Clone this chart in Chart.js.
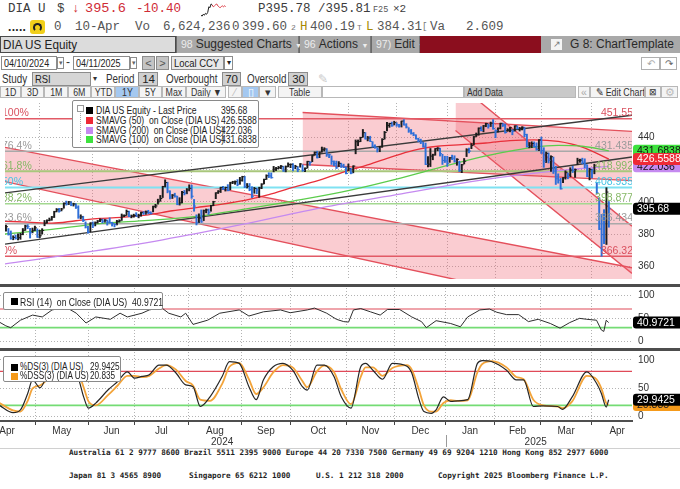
<!DOCTYPE html>
<html><head><meta charset="utf-8"><title>DIA US Equity</title>
<script src="https://cdn.jsdelivr.net/npm/chart.js@4.4.1/dist/chart.umd.min.js"></script>
<style>
*{margin:0;padding:0;box-sizing:border-box}
html,body{width:680px;height:489px;overflow:hidden;background:#fff}
body{position:relative;font-family:"Liberation Sans",Arial,sans-serif;color:#222}
.a{position:absolute;white-space:nowrap;line-height:1}
.m{font-family:"Liberation Mono","DejaVu Sans Mono",monospace}
.n{display:inline-block;transform:scaleX(.82);transform-origin:0 50%;white-space:pre}
.nc{display:inline-block;transform:scaleX(.84);transform-origin:50% 50%;white-space:pre}
.r1{top:3px;font-size:12.5px;color:#3c3c3c}
.r2{top:21px;font-size:12.5px;color:#555}
.red{color:#cf2b36}
.ol{color:#a88a00}
.seg{position:absolute;top:36px;height:17px;background:#a9a9a9;font-size:12px;line-height:17px;color:#2a2a2a;padding-left:4px;white-space:nowrap;border-right:1px solid #777}
.seg b{font-weight:normal;color:#ececec;font-size:10.5px;margin-right:3px}
.box{position:absolute;border:1px solid #8c8c8c;background:#fff;font-size:11px;line-height:12px;height:14px;padding:0 2px;white-space:nowrap;color:#222;overflow:hidden}
.lbl{position:absolute;font-size:12px;line-height:14px;color:#333;white-space:nowrap}
.btn{position:absolute;top:86px;height:12px;border:1px solid #b8b8b8;background:#f4f4f4;font-size:10.5px;line-height:10px;text-align:center;color:#333;white-space:nowrap;overflow:hidden}
canvas{position:absolute}
.lg{position:absolute;background:#fff;border:1px solid #8a8a8a;border-radius:2px;font-size:10.5px;color:#222}
.lg .row{position:absolute;white-space:pre;line-height:10px;height:10px}
.sq{position:absolute;width:7px;height:7px}
.sep{position:absolute;left:0;width:680px;height:3px;background:#4d4d4d}
.foot{position:absolute;font-family:"DejaVu Sans Mono",monospace;font-weight:bold;font-size:7.67px;color:#1e1e1e;white-space:pre;line-height:1}
</style></head><body>

<!-- header row 1 -->
<div class="a m r1" style="left:8px">DIA U</div>
<div class="a m r1" style="left:57px">$</div>
<div class="a m r1 red" style="left:72px">↓</div>
<div class="a m r1 red" style="left:85px;top:2px;font-size:13.6px">395.6</div>
<div class="a m r1 red" style="left:136px">-10.40</div>
<canvas id="spark" width="58" height="17" style="left:200px;top:2px;width:58px;height:17px"></canvas>
<div class="a m r1" style="left:258px">P395.78 /395.81</div>
<div class="a m" style="left:373px;top:6px;font-size:8.5px;color:#555">F25</div>
<div class="a m r1" style="left:393px;top:4px;font-size:11px">×2</div>

<!-- header row 2 -->
<div class="a" style="left:8px;top:21px;font-size:12px;font-weight:bold;color:#222;letter-spacing:0.3px">.....</div>
<div class="a" style="left:30px;top:20px;width:15px;height:14px;background:#f1cf1b;border-radius:3px"></div>
<div class="a" style="left:33px;top:23px;width:9px;height:9px;border:2px solid #222;border-bottom-color:transparent;border-radius:50%"></div>
<div class="a m r2" style="left:54px">0</div>
<div class="a m r2" style="left:75px">10-Apr</div>
<div class="a m r2" style="left:135px">Vo</div>
<div class="a m r2" style="left:163px">6,624,236</div>
<div class="a m r2" style="left:232px">0</div>
<div class="a m r2" style="left:242px">399.60</div>
<div class="a m" style="left:291px;top:24px;font-size:8px;color:#777">2</div>
<div class="a m r2 ol" style="left:300px">H</div>
<div class="a m r2" style="left:310px">400.19</div>
<div class="a m" style="left:357px;top:24px;font-size:8px;color:#777">T</div>
<div class="a m r2 ol" style="left:366px">L</div>
<div class="a m r2" style="left:377px">384.31</div>
<div class="a m" style="left:422px;top:23px;font-size:9px;color:#777">[</div>
<div class="a m r2" style="left:430px">Va</div>
<div class="a m r2" style="left:466px">2.609</div>

<!-- header row 3 -->
<div class="a" style="left:0;top:36px;width:680px;height:17px;background:#6a6a6a"></div>
<div class="box" style="left:0;top:36px;width:176px;height:17px;background:#dcdcdc;border-color:#4a4a4a;font-size:13px;line-height:15px;padding-left:2px"><span class="n" style="transform:scaleX(.9)">DIA US Equity</span></div>
<div class="seg" style="left:177px;width:122px"><b>98</b>Suggested Charts <span style="font-size:7px;color:#eee">▼</span></div>
<div class="seg" style="left:300px;width:71px"><b>96</b>Actions <span style="font-size:7px;color:#eee">▼</span></div>
<div class="seg" style="left:372px;width:48px"><b>97)</b>Edit <span style="font-size:7px;color:#eee">▼</span></div>
<div class="a" style="left:420px;top:36px;width:121px;height:17px;background:#8b0e1e"></div>
<div class="seg" style="left:541px;width:139px;padding-left:29px;border-right:none">G 8: ChartTemplate</div>
<div class="a" style="left:551px;top:39px;width:11px;height:11px;background:#f4f4f4;color:#777;font-size:9px;line-height:11px;text-align:center">↗</div>

<!-- header row 4 -->
<div class="box" style="left:1px;top:56px;width:56px"><span class="n">04/10/2024</span></div>
<div class="box" style="left:57px;top:57px;width:7px;height:12px;font-size:7px;line-height:10px;padding:0;text-align:center;color:#666">▾</div>
<div class="lbl" style="left:66px;top:55px">-</div>
<div class="box" style="left:73px;top:56px;width:57px"><span class="n">04/11/2025</span></div>
<div class="box" style="left:130px;top:57px;width:7px;height:12px;font-size:7px;line-height:10px;padding:0;text-align:center;color:#666">▾</div>
<div class="box" style="left:142px;top:56px;width:13px;background:#c4c4c4;text-align:center;padding:0;color:#555">&lt;</div>
<div class="box" style="left:156px;top:56px;width:13px;background:#c4c4c4;text-align:center;padding:0;color:#555">&gt;</div>
<div class="box" style="left:171px;top:56px;width:53px;background:#e8e8e8;font-size:11.5px"><span class="n">Local CCY</span></div>
<div class="box" style="left:224px;top:56px;width:9px;padding:0;text-align:center;font-size:8px">▾</div>
<div class="box" style="left:641px;top:57px;width:19px;height:13px;border-color:#b0b0b0;color:#aaa;text-align:center;font-size:10px;padding:0">↶</div>
<div class="box" style="left:660px;top:57px;width:17px;height:13px;border-color:#b0b0b0;color:#666;text-align:center;font-size:10px;padding:0">↷</div>

<!-- header row 5 -->
<div class="lbl" style="left:2px;top:72px"><span class="n">Study</span></div>
<div class="box" style="left:32px;top:72px;width:59px;background:#d6d6d6;font-size:11.5px"><span class="n">RSI</span></div>
<div class="lbl" style="left:93px;top:72px;font-size:8px">▾</div>
<div class="lbl" style="left:106px;top:72px"><span class="n">Period</span></div>
<div class="box" style="left:138px;top:72px;width:20px;background:#d0d0d0;text-align:right;font-size:11.5px">14</div>
<div class="lbl" style="left:166px;top:72px"><span class="n">Overbought</span></div>
<div class="box" style="left:222px;top:72px;width:19px;background:#d0d0d0;text-align:right;font-size:11.5px">70</div>
<div class="lbl" style="left:247px;top:72px"><span class="n">Oversold</span></div>
<div class="box" style="left:288px;top:72px;width:20px;background:#d0d0d0;text-align:right;font-size:11.5px">30</div>
<div class="lbl" style="left:318px;top:72px;color:#c8c8c8">✎</div>

<!-- header row 6 -->
<div class="btn" style="left:0;width:21px"><span class="nc">1D</span></div>
<div class="btn" style="left:21px;width:23px"><span class="nc">3D</span></div>
<div class="btn" style="left:44px;width:24px"><span class="nc">1M</span></div>
<div class="btn" style="left:68px;width:23px"><span class="nc">6M</span></div>
<div class="btn" style="left:91px;width:24px"><span class="nc">YTD</span></div>
<div class="btn" style="left:115px;width:24px;background:#a4c8f0"><span class="nc">1Y</span></div>
<div class="btn" style="left:139px;width:23px"><span class="nc">5Y</span></div>
<div class="btn" style="left:162px;width:24px"><span class="nc">Max</span></div>
<div class="btn" style="left:186px;width:40px"><span class="nc">Daily ▼</span></div>
<div class="btn" style="left:228px;width:14px;color:#bbb">⁄</div>
<div class="btn" style="left:242px;width:17px;background:#a4c8f0;color:#fff">▯</div>
<div class="btn" style="left:259px;width:17px">▾</div>
<div class="btn" style="left:278px;width:44px"><span class="nc">Table</span></div>
<div class="btn" style="left:322px;width:142px;background:#fff"></div>
<div class="btn" style="left:464px;width:112px;background:#c9c9c9;text-align:left;padding-left:2px"><span class="n">Add Data</span></div>
<div class="btn" style="left:578px;width:12px;color:#aaa">«</div>
<div class="btn" style="left:590px;width:55px"><span class="nc">✎ Edit Chart</span></div>
<div class="btn" style="left:645px;width:16px;font-size:9px">⊠</div>
<div class="btn" style="left:661px;width:17px;color:#bbb">⚙</div>

<!-- chart panels -->
<canvas id="cPrice" width="680" height="186" style="left:0;top:98px;width:680px;height:186px"></canvas>
<div class="sep" style="top:284px"></div>
<canvas id="cRsi" width="680" height="60" style="left:0;top:288px;width:680px;height:60px"></canvas>
<div class="sep" style="top:348px"></div>
<canvas id="cSto" width="680" height="96" style="left:0;top:352px;width:680px;height:96px"></canvas>

<!-- legends -->
<div class="lg" style="left:72px;top:100px;width:187px;height:48px">
  <div style="position:absolute;left:4px;top:4px;width:7px;height:7px;border:1px solid #999"></div>
  <div style="position:absolute;left:7px;top:12px;width:1px;height:29px;border-left:1px dotted #aaa"></div>
  <div class="sq" style="left:13px;top:6px;background:#000"></div>
  <div class="row" style="left:23px;top:4px"><span class="n">DIA US Equity - Last Price</span></div><div class="row" style="left:148px;top:4px"><span class="n" id="lv0"></span></div>
  <div class="sq" style="left:13px;top:16px;background:#ee2a36"></div>
  <div class="row" style="left:23px;top:14px"><span class="n">SMAVG (50)  on Close (DIA US)</span></div><div class="row" style="left:148px;top:14px"><span class="n" id="lv1"></span></div>
  <div class="sq" style="left:13px;top:26px;background:#c58af0"></div>
  <div class="row" style="left:23px;top:24px"><span class="n">SMAVG (200)  on Close (DIA US)</span></div><div class="row" style="left:148px;top:24px"><span class="n" id="lv2"></span></div>
  <div class="sq" style="left:13px;top:35px;background:#3ee23e"></div>
  <div class="row" style="left:23px;top:33px"><span class="n">SMAVG (100)  on Close (DIA US)</span></div><div class="row" style="left:148px;top:33px"><span class="n" id="lv3"></span></div>
</div>
<div class="lg" style="left:3px;top:292px;width:160px;height:18px">
  <div class="sq" style="left:7px;top:5px;background:#000"></div>
  <div class="row" style="left:16px;top:4px"><span class="n">RSI (14)  on Close (DIA US)  <span id="lv4"></span></span></div>
</div>
<div class="lg" style="left:3px;top:356px;width:118px;height:26px;font-size:10px">
  <div class="sq" style="left:7px;top:7px;background:#000"></div>
  <div class="row" style="left:16px;top:5px"><span class="n">%DS(3) (DIA US)</span></div><div class="row" style="left:86px;top:5px"><span class="n" id="lv5"></span></div>
  <div class="sq" style="left:7px;top:16px;background:#f59a1a"></div>
  <div class="row" style="left:16px;top:14px"><span class="n">%DSS(3) (DIA US)</span></div><div class="row" style="left:86px;top:14px"><span class="n" id="lv6"></span></div>
</div>

<!-- footer -->
<div class="a" style="left:0;top:448px;width:680px;height:1px;background:#d0d0d0"></div>
<div class="foot" style="left:69px;top:449px">Australia 61 2 9777 8600 Brazil 5511 2395 9000 Europe 44 20 7330 7500 Germany 49 69 9204 1210 Hong Kong 852 2977 6000</div>
<div class="foot" style="left:69px;top:472px">Japan 81 3 4565 8900</div>
<div class="foot" style="left:189px;top:472px">Singapore 65 6212 1000</div>
<div class="foot" style="left:316px;top:472px">U.S. 1 212 318 2000</div>
<div class="foot" style="left:438px;top:472px">Copyright 2025 Bloomberg Finance L.P.</div>

<script>
// ---------------- DATA ----------------
// daily bars, Apr 10 2024 .. Apr 10 2025 (trading-day index = position)
const closes = [
384.6,384.6,379.8,377.4,378.0,377.5,377.8,379.9,382.4,385.0,384.6,380.9,382.4,383.9,378.2,
379.0,382.3,386.8,388.5,388.8,390.6,393.9,395.1,394.3,395.6,399.1,398.7,400.0,398.1,398.7,396.7,390.7,390.7,388.5,384.4,381.1,386.9,
385.7,387.1,388.1,388.9,388.0,388.7,387.5,387.1,386.5,385.9,387.8,388.3,391.3,391.5,394.1,391.1,391.3,391.6,391.2,
391.7,393.3,393.1,393.8,393.4,392.9,397.2,397.5,400.0,402.1,409.5,412.0,406.7,402.9,404.2,403.6,398.5,399.4,405.9,405.4,407.4,408.4,
403.5,397.4,387.0,390.0,387.6,394.5,395.0,393.6,397.7,400.1,405.6,406.6,409.0,408.3,408.9,407.1,411.8,412.4,412.5,410.9,413.4,415.6,
409.4,409.7,407.6,403.5,408.3,407.4,408.6,411.0,413.9,416.2,416.1,415.0,420.3,420.6,421.2,422.1,419.2,421.8,423.1,423.3,
421.6,422.0,420.1,423.5,419.5,420.8,425.1,424.5,428.6,430.7,427.4,430.8,432.4,432.8,429.3,429.2,425.1,423.7,421.1,423.9,422.3,421.4,417.6,
420.5,417.9,422.2,437.3,437.3,439.9,442.9,439.1,439.6,437.5,434.5,433.9,432.7,434.1,438.7,443.0,447.4,448.6,447.2,449.1,
447.8,447.1,450.1,447.7,446.4,444.0,442.5,441.5,439.1,438.3,437.2,434.5,423.3,423.4,428.4,429.1,433.0,433.3,429.9,425.7,425.4,
423.9,427.3,427.1,425.3,426.4,419.4,423.0,425.2,432.2,431.5,434.9,440.3,441.6,445.7,444.2,447.1,448.5,447.1,448.8,445.5,
444.2,445.6,448.7,447.5,443.0,444.7,445.9,443.7,447.1,445.5,445.6,446.3,441.8,434.3,434.6,436.2,434.3,432.4,438.4,
431.9,425.2,430.1,425.8,428.0,419.1,414.3,413.5,408.1,414.9,418.4,415.8,419.7,419.5,419.9,425.8,425.9,424.6,423.0,415.8,420.0,
419.9,422.3,405.5,383.2,379.7,376.5,406.1,395.68];
const highs = [
387.0,385.6,383.5,382.0,379.0,379.5,380.2,380.5,383.5,385.6,385.9,383.6,383.8,385.0,383.3,
382.4,383.4,388.5,388.9,390.0,391.0,394.2,395.9,396.0,396.0,399.4,400.5,400.3,400.1,399.2,398.9,397.6,392.0,391.1,387.6,384.9,387.1,
387.6,387.6,388.5,389.5,389.4,389.1,388.8,390.1,387.4,386.5,388.6,388.9,392.5,392.0,395.0,394.3,391.9,392.4,393.3,
392.4,393.7,394.0,394.4,394.8,393.9,397.4,398.5,401.7,404.0,409.7,413.7,412.2,406.9,404.6,405.4,403.6,402.6,406.5,407.1,408.3,410.6,
410.4,401.5,392.0,392.6,395.0,395.0,395.6,395.6,397.9,400.4,405.7,407.0,409.1,409.6,409.2,410.7,412.2,412.8,413.0,413.8,415.2,415.9,
415.8,411.4,411.4,409.4,409.0,408.6,409.1,411.3,414.2,416.8,418.1,418.0,422.0,421.4,422.0,422.6,422.1,422.3,424.2,423.6,
423.7,422.7,421.9,423.8,423.0,421.1,425.2,425.0,428.8,431.0,431.4,431.0,434.0,433.6,433.0,429.6,428.5,425.4,425.3,425.0,424.0,423.4,421.7,
423.5,420.8,422.4,438.4,438.4,440.1,444.9,443.0,440.6,440.7,437.3,435.4,433.6,434.4,439.2,443.7,449.3,448.8,449.5,450.0,
449.1,448.1,450.1,451.0,448.5,446.0,444.9,443.0,441.6,439.5,438.9,436.9,436.5,428.1,433.1,429.6,433.1,433.7,433.3,429.5,428.3,
428.3,427.6,429.0,428.6,426.8,425.2,423.3,426.9,433.0,433.3,436.2,440.6,442.7,445.9,446.6,447.4,448.8,448.3,449.5,451.0,
444.7,445.9,448.8,448.8,448.3,445.4,446.2,444.7,447.2,447.2,446.2,446.6,446.3,442.0,436.8,437.3,437.2,436.6,438.6,
440.2,433.6,430.9,430.4,428.6,427.8,422.1,417.4,414.6,415.1,419.3,418.0,421.2,422.1,420.4,427.1,426.5,427.1,426.7,423.0,420.8,
420.4,423.4,412.0,402.5,392.3,395.2,408.8,400.2];
const lows = [
382.5,381.8,379.4,376.8,376.5,376.9,376.4,376.8,379.6,382.3,383.4,377.6,380.8,382.2,378.0,
377.8,380.0,385.2,386.8,388.2,388.6,390.3,393.8,393.7,394.4,396.1,398.0,398.3,397.6,397.4,395.9,389.8,389.5,387.8,383.8,380.6,381.5,
384.0,385.1,386.8,387.7,386.9,387.4,385.6,386.8,385.0,384.5,385.7,387.5,388.5,390.8,391.6,390.8,390.1,390.5,390.9,
390.1,391.2,392.2,392.3,392.6,392.4,393.8,396.3,398.6,400.4,402.7,409.2,405.6,401.8,402.1,402.9,398.2,398.0,399.4,404.3,405.0,406.8,
402.2,394.2,385.7,387.1,387.3,388.4,393.2,392.2,394.2,397.6,402.0,405.2,405.8,407.6,406.7,406.8,407.5,411.3,410.9,410.0,410.9,412.8,
408.8,408.6,406.9,402.6,405.3,405.0,402.8,408.2,411.2,413.9,415.0,414.7,418.6,419.4,420.5,420.6,418.9,418.6,421.7,421.2,
419.2,420.5,418.7,421.5,418.9,418.8,420.9,422.7,424.9,428.9,427.2,427.4,430.8,431.5,428.2,427.4,423.2,422.4,420.7,421.9,421.3,421.2,417.4,
419.4,417.4,418.0,429.8,434.8,437.3,440.1,438.9,437.8,437.4,433.9,433.2,430.9,431.1,433.8,438.9,444.0,446.2,446.8,447.7,
446.8,446.3,446.4,447.6,445.8,443.1,442.0,441.0,438.9,437.2,436.1,433.9,423.1,421.6,421.9,426.1,428.9,431.7,428.4,423.2,424.4,
422.0,424.5,426.2,424.6,422.7,418.8,418.1,423.5,428.1,430.4,433.0,435.5,440.5,441.3,444.0,443.4,446.6,445.7,446.7,445.0,
439.8,443.3,445.2,446.7,442.6,443.8,443.4,441.6,443.9,445.2,443.9,444.6,440.4,434.0,433.5,433.6,433.9,432.0,431.8,
430.0,421.4,424.4,424.1,418.9,417.6,410.8,411.6,407.9,411.9,414.1,414.3,415.6,418.2,415.2,423.1,424.5,423.6,421.0,415.6,413.6,
414.8,417.4,404.9,382.8,366.3,374.1,373.6,384.3];

// moving averages (sample positions = trading-day index)
const sma50Idx  = [0,10,20,30,40,50,60,70,80,90,100,110,120,130,140,150,160,170,180,190,200,210,220,230,240,251];
const sma50     = [388.0,387.5,386.8,388.3,389.8,390.5,392.0,394.5,396.5,398.5,401.0,404.5,409.0,413.0,418.0,422.5,427.5,432.0,434.5,435.5,436.5,438.0,438.5,437.5,434.0,426.5588];
const sma100Idx = [0,20,40,60,80,100,120,140,160,180,200,210,220,230,240,251];
const sma100    = [380.0,383.0,386.5,388.5,391.0,395.5,400.5,406.0,413.0,421.0,428.5,431.5,434.0,435.0,434.5,431.6838];
const sma200Idx = [0,33,66,99,132,165,198,231,251];
const sma200    = [361.5,368.5,376.5,386.0,396.5,405.0,413.5,419.5,422.036];

// Fibonacci retracement levels
const fibPct    = ['100%','76.4%','61.8%','50%','38.2%','23.6%','0%'];
const fibLevels = [451.55,431.435,418.992,408.935,398.877,386.434,366.32];

// drawn channels / trend lines: [trading-day index, price]
const chanL1 = [[0.6,433.8],[260.6,359.2]];
const chanL3 = [[0.6,412.6],[260.6,328.1]];
const chanT1 = [[124,455.4],[260.6,443.7]];
const chanT2 = [[124,423.2],[260.6,413.2]];
const chanD1 = [[187.4,474.3],[260.6,385.0]];
const chanD2 = [[187.4,444.3],[260.6,355.7]];
const trendU  = [[0.6,405.6],[260.6,453.7]];
const trendLB = [[0.6,373.8],[260.6,427.8]];

// RSI(14)
const rsiIdx  = [0,3,5,9,14,18,22,26,29,32,36,40,46,50,53,59,62,67,70,75,77,80,86,91,99,103,109,116,120,127,130,135,139,142,144,146,149,153,157,160,165,170,174,176,180,186,190,193,198,202,205,209,214,218,222,227,231,235,239,242,246,248,249,250,251];
const rsiVals = [43,34,30,46,57,53,68,72,70,61,40,53,48,61,53,61,68,73,61,53,61,37,46,61,68,55,64,68,62,68,72,61,48,43,42,68,71,64,57,69,69,53,43,30,45,39,32,53,68,70,63,58,58,43,48,39,29,41,50,48,46,25,22,46,40.9721];

// Stochastic %DS(3) / %DSS(3)
const stIdx   = [0,6,9,12,14,17,21,25,29,33,35,37,40,45,49,53,56,59,62,66,69,73,77,80,83,87,92,95,99,103,106,109,113,117,121,125,127,131,134,138,141,145,149,151,154,158,162,168,170,173,175,178,180,183,186,189,193,197,199,203,209,213,216,220,224,230,232,236,242,246,248,250,251];
const dsVals  = [21,7,12,41,65,51,82,95,92,65,35,15,24,47,62,79,68,71,74,91,91,77,56,53,18,35,71,97,94,53,30,65,88,94,82,53,47,91,91,71,35,15,88,94,82,66,94,89,77,30,9,6,12,35,27,28,30,94,99,97,82,65,65,18,19,18,13,35,79,59,41,17,29.9425];
const dssVals = [25,11,9,28,50,55,70,89,94,76,52,27,20,38,55,72,72,70,72,85,91,83,63,55,30,28,58,88,95,66,40,52,78,91,87,63,52,80,90,79,48,22,70,87,87,72,86,91,83,47,20,9,9,24,29,28,29,78,93,98,87,70,66,30,20,18,15,27,72,66,50,24,20.835];

// axis labels
const priceTicks = [360,380,400,420,440];
const oscTicks = [0,50,100];
const monthStartIdx = [15,37,56,78,100,120,143,163,184,204,223,244];
const monthLabels = ['Apr','May','Jun','Jul','Aug','Sep','Oct','Nov','Dec','Jan','Feb','Mar','Apr'];
const monthLabelIdx = [3.5,26,46.5,67,89,110,131.5,153,173.5,194,213.5,233.5,254.5];
const yearLabels = ['2024','2025'];
const yearLabelIdx = [92,221];
const yearSplitIdx = 184;

// header sparkline
const sparkBlack = [3,2,4,3,5,4,6,12,11,15,14];
const sparkRed   = [14,12,13,14,15,13,12,11,12,13,12,13,12];

// ---------------- STYLE / LAYOUT ----------------
const X_MIN = 0.6, X_MAX = 260.6;
const PINK = 'rgba(240,96,112,0.32)', RED_LN = '#e4505c';
const FIB_COL = ['#e25a66','#a9a9a9','#a9c77c','#7fe2f2','#a3d890','#a9a9a9','#e25a66'];
const FIB_TXT = ['#d9505e','#9a9a9a','#86b866','#46c4e4','#86b866','#9a9a9a','#d9505e'];
const FIB_W   = [1.5,1.5,2,2,1.5,1.5,1.5];
const GRID = '#b3b3b3';
const last = a => a[a.length-1];

document.getElementById('lv0').textContent = String(last(closes));
document.getElementById('lv1').textContent = String(last(sma50));
document.getElementById('lv2').textContent = String(last(sma200));
document.getElementById('lv3').textContent = String(last(sma100));
document.getElementById('lv4').textContent = String(last(rsiVals));
document.getElementById('lv5').textContent = String(last(dsVals));
document.getElementById('lv6').textContent = String(last(dssVals));

const pts = arr => arr.map(p => ({x:p[0], y:p[1]}));
const zip = (xs, ys) => xs.map((x,i) => ({x, y:ys[i]}));

function xScale(extra){
  return Object.assign({
    type:'linear', min:X_MIN, max:X_MAX, offset:false,
    afterBuildTicks: s => { s.ticks = monthStartIdx.map(v => ({value:v})); },
    grid:{color:GRID, lineWidth:1, drawTicks:false, offset:false},
    border:{display:false, dash:[1,2]},
    ticks:{display:false},
    afterFit: s => { s.height = 0; s.paddingLeft = 0; s.paddingRight = 0; }
  }, extra || {});
}
function yScale(min, max, ticks){
  return {
    type:'linear', position:'right', min, max,
    afterBuildTicks: s => { s.ticks = ticks.map(v => ({value:v})); },
    grid:{color:GRID, lineWidth:1, drawTicks:false},
    border:{display:false, dash:[1,2]},
    ticks:{padding:6, color:'#333', font:{family:'Liberation Sans', size:10}},
    afterFit: s => { s.width = 48; s.paddingTop = 0; s.paddingBottom = 0; }
  };
}
function drawTag(ctx, x0, yc, txt, bg, fg){
  const h = 12, r = 3, x1 = 680;
  ctx.fillStyle = bg; ctx.beginPath();
  ctx.moveTo(x0 + r, yc - h/2); ctx.lineTo(x1, yc - h/2); ctx.lineTo(x1, yc + h/2); ctx.lineTo(x0 + r, yc + h/2);
  ctx.quadraticCurveTo(x0, yc + h/2, x0, yc + h/2 - r); ctx.lineTo(x0, yc - h/2 + r);
  ctx.quadraticCurveTo(x0, yc - h/2, x0 + r, yc - h/2); ctx.fill();
  ctx.fillStyle = fg; ctx.font = '10.5px "Liberation Sans"'; ctx.textAlign = 'left'; ctx.textBaseline = 'middle';
  ctx.fillText(txt, x0 + 4, yc + 0.5);
}
const common = {
  responsive:false, animation:false, events:[], layout:{padding:0},
  plugins:{legend:{display:false}, tooltip:{enabled:false}}
};

// ---------------- PRICE PANEL ----------------
const barCols = closes.map((c,i) => (i > 0 && c < closes[i-1]) ? '#2f6fd8' : '#1c1c1c');
const pDs = [];
const add = d => { pDs.push(d); return pDs.length - 1; };
const lineBase = {type:'line', pointRadius:0, borderWidth:1.4, tension:0, fill:false};
[[chanL1,chanL3],[chanT1,chanT2],[chanD1,chanD2]].forEach(([a,b]) => {
  const ia = add(Object.assign({}, lineBase, {data:pts(a), borderColor:RED_LN, order:20}));
  add(Object.assign({}, lineBase, {data:pts(b), borderColor:RED_LN, order:20, fill:{target:ia}, backgroundColor:PINK}));
});
fibLevels.forEach((v,i) => add(Object.assign({}, lineBase, {
  data:[{x:X_MIN,y:v},{x:X_MAX,y:v}], borderColor:FIB_COL[i], borderWidth:FIB_W[i], order:15})));
[trendU, trendLB].forEach(t => add(Object.assign({}, lineBase, {data:pts(t), borderColor:'#3a3a3a', borderWidth:1.4, order:12})));
add(Object.assign({}, lineBase, {data:zip(sma200Idx, sma200), borderColor:'#c58af0', borderWidth:1.3, cubicInterpolationMode:'monotone', order:8}));
add(Object.assign({}, lineBase, {data:zip(sma100Idx, sma100), borderColor:'#5ccc4c', borderWidth:1.3, cubicInterpolationMode:'monotone', order:8}));
add(Object.assign({}, lineBase, {data:zip(sma50Idx, sma50), borderColor:'#e8303a', borderWidth:1.3, cubicInterpolationMode:'monotone', order:8}));
add({type:'bar', data:closes.map((c,i) => ({x:i, y:[lows[i], highs[i]]})), backgroundColor:barCols,
     barThickness:1.3, grouped:false, order:3});
add({type:'line', showLine:false, data:closes.map((c,i) => ({x:i + 0.4, y:c})), pointStyle:'line',
     pointRadius:1.1, pointBorderWidth:1, pointBorderColor:barCols, order:2});

const priceDeco = {
  id:'priceDeco',
  afterDatasetsDraw(c){
    const {ctx, chartArea:a, scales:{y}} = c;
    ctx.save(); ctx.beginPath(); ctx.rect(a.left, a.top, a.right - a.left, a.bottom - a.top); ctx.clip();
    ctx.font = '10.5px "Liberation Sans"'; ctx.textBaseline = 'alphabetic';
    fibLevels.forEach((v,i) => {
      const py = y.getPixelForValue(v);
      ctx.fillStyle = FIB_TXT[i];
      ctx.textAlign = 'left';  ctx.fillText(fibPct[i], a.left - 3, py - 2.5);
      ctx.textAlign = 'right'; ctx.fillText(String(v), a.right + 1, py - 2.5);
    });
    ctx.restore();
  },
  afterDraw(c){
    const {ctx, chartArea:a, scales:{y}} = c;
    ctx.save();
    const x0 = a.right + 1;
    drawTag(ctx, x0, y.getPixelForValue(last(sma100)), String(last(sma100)), '#3ee23e', '#111');
    drawTag(ctx, x0, y.getPixelForValue(last(sma200)), String(last(sma200)), '#c58af0', '#111');
    drawTag(ctx, x0, y.getPixelForValue(last(sma50)),  String(last(sma50)),  '#ee2a36', '#fff');
    drawTag(ctx, x0, y.getPixelForValue(last(closes)), String(last(closes)), '#000', '#fff');
    ctx.restore();
  }
};
new Chart(document.getElementById('cPrice'), {
  type:'line', data:{datasets:pDs},
  options:Object.assign({}, common, {scales:{x:xScale(), y:yScale(352.2, 461.3, priceTicks)}}),
  plugins:[priceDeco]
});

// ---------------- RSI PANEL ----------------
const rsiDeco = {id:'rsiDeco', afterDraw(c){
  const {ctx, chartArea:a, scales:{y}} = c; ctx.save();
  drawTag(ctx, a.right + 1, y.getPixelForValue(last(rsiVals)), String(last(rsiVals)), '#000', '#fff');
  ctx.restore(); }};
new Chart(document.getElementById('cRsi'), {
  type:'line',
  data:{datasets:[
    Object.assign({}, lineBase, {data:zip(rsiIdx, rsiVals), borderColor:'#2e2e2e', borderWidth:1, order:1}),
    Object.assign({}, lineBase, {data:[{x:X_MIN,y:70},{x:X_MAX,y:70}], borderColor:'#e04a58', borderWidth:1.2, order:5}),
    Object.assign({}, lineBase, {data:[{x:X_MIN,y:30},{x:X_MAX,y:30}], borderColor:'#74dc74', borderWidth:1.8, order:5})
  ]},
  options:Object.assign({}, common, {scales:{x:xScale(), y:yScale(-13.5, 115, oscTicks)}}),
  plugins:[rsiDeco]
});

// ---------------- STOCHASTIC PANEL + TIME AXIS ----------------
const stoDeco = {id:'stoDeco', afterDraw(c){
  const {ctx, chartArea:a, scales:{x, y}} = c; ctx.save();
  drawTag(ctx, a.right + 1, y.getPixelForValue(last(dssVals)), String(last(dssVals)), '#f59a1a', '#222');
  drawTag(ctx, a.right + 1, y.getPixelForValue(last(dsVals)), String(last(dsVals)), '#000', '#fff');
  ctx.fillStyle = '#333'; ctx.font = '10px "Liberation Sans"'; ctx.textAlign = 'center'; ctx.textBaseline = 'middle';
  monthLabels.forEach((t,i) => ctx.fillText(t, x.getPixelForValue(monthLabelIdx[i]), a.bottom + 10));
  yearLabels.forEach((t,i) => ctx.fillText(t, x.getPixelForValue(yearLabelIdx[i]), a.bottom + 21));
  const xd = Math.round(x.getPixelForValue(yearSplitIdx)) + 0.5;
  ctx.strokeStyle = '#9a9a9a'; ctx.lineWidth = 1; ctx.beginPath(); ctx.moveTo(xd, a.bottom + 14); ctx.lineTo(xd, a.bottom + 26); ctx.stroke();
  ctx.restore(); }};
new Chart(document.getElementById('cSto'), {
  type:'line',
  data:{datasets:[
    Object.assign({}, lineBase, {data:zip(stIdx, dsVals), borderColor:'#262626', borderWidth:1.2, cubicInterpolationMode:'monotone', order:1}),
    Object.assign({}, lineBase, {data:zip(stIdx, dssVals), borderColor:'#f3a43a', borderWidth:1.8, cubicInterpolationMode:'monotone', order:2}),
    Object.assign({}, lineBase, {data:[{x:X_MIN,y:80},{x:X_MAX,y:80}], borderColor:'#e04a58', borderWidth:1.2, order:5}),
    Object.assign({}, lineBase, {data:[{x:X_MIN,y:20},{x:X_MAX,y:20}], borderColor:'#74dc74', borderWidth:1.8, order:5})
  ]},
  options:Object.assign({}, common, {scales:{
    x:xScale({
      grid:{color:GRID, lineWidth:1, drawTicks:true, tickLength:4, tickColor:'#444', tickWidth:1, tickBorderDash:[], offset:false},
      border:{display:true, color:'#4f4f4f', width:2, dash:[1,2]},
      afterFit: s => { s.height = 27; s.paddingLeft = 0; s.paddingRight = 0; }
    }),
    y:yScale(-7.6, 114.1, oscTicks)}}),
  plugins:[stoDeco]
});

// ---------------- HEADER SPARKLINE ----------------
new Chart(document.getElementById('spark'), {
  type:'line',
  data:{datasets:[
    {data:sparkBlack.map((v,i) => ({x:i, y:v})), borderColor:'#222', borderWidth:1, pointRadius:0},
    {data:sparkRed.map((v,i) => ({x:i + sparkBlack.length - 1, y:v})), borderColor:'#d8323c', borderWidth:1, pointRadius:0, tension:0.4}
  ]},
  options:Object.assign({}, common, {layout:{padding:1}, scales:{x:{type:'linear', display:false}, y:{display:false, min:0, max:16}}})
});
</script>
</body></html>
